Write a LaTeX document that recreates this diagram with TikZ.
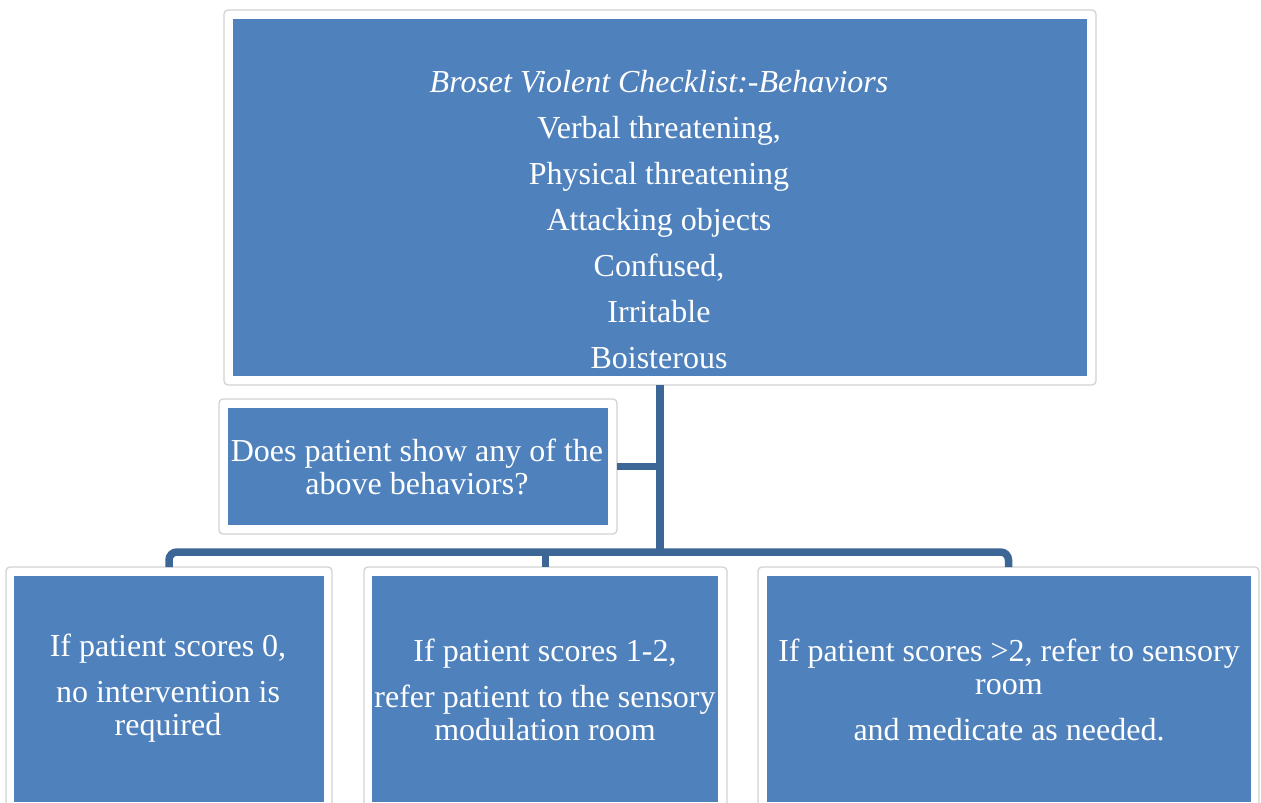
\documentclass[tikz,border=0pt]{standalone}
\usepackage{fontspec}
\setmainfont{Liberation Serif}
\definecolor{boxblue}{HTML}{4F81BD}
\definecolor{linkblue}{HTML}{3C6696}
\definecolor{rimgray}{HTML}{D2D2D2}
\begin{document}
\begin{tikzpicture}[x=1pt,y=-1pt,
  rim/.style={draw=rimgray, line width=1.3pt, fill=white, rounded corners=4pt, inner sep=0pt, outer sep=0pt},
  card/.style={fill=boxblue, inner sep=0pt, outer sep=0pt},
  txt/.style={text=white, align=center, font=\fontsize{32}{33}\selectfont, inner sep=0pt},
  link/.style={draw=linkblue, line width=7.5pt}]
\useasboundingbox (0,0) rectangle (1261,803);
\clip (0,0) rectangle (1261,803);

% outer frames
\node[rim, minimum width=872pt, minimum height=375pt] (top) at (660,197.5) {};
\node[rim, minimum width=398pt, minimum height=135pt] (q) at (418,466.5) {};
\node[rim, minimum width=326pt, minimum height=245pt] (L) at (169,689.5) {};
\node[rim, minimum width=363pt, minimum height=245pt] (M) at (545.5,689.5) {};
\node[rim, minimum width=501pt, minimum height=245pt] (R) at (1008.5,689.5) {};

% blue cards
\node[card, minimum width=854pt, minimum height=357pt] (topc) at (top.center) {};
\node[card, minimum width=380pt, minimum height=117pt] (qc) at (q.center) {};
\node[card, minimum width=310pt, minimum height=226pt] (Lc) at (169,689) {};
\node[card, minimum width=346pt, minimum height=226pt] (Mc) at (545,689) {};
\node[card, minimum width=484pt, minimum height=226pt] (Rc) at (1009,689) {};

% texts
\node[txt, font=\fontsize{32}{46}\selectfont] (topt) at (659,220)
  {\textit{Broset Violent Checklist:-Behaviors}\\Verbal threatening,\\Physical threatening\\Attacking objects\\Confused,\\Irritable\\Boisterous};
\node[txt] (qt) at (417,466.5) {Does patient show any of the\\above behaviors?};
\node[txt] (Lt) at (168,688.5) {If patient scores 0,\\[13pt]no intervention is\\required};
\node[txt] (Mt) at (545,690) {If patient scores 1-2,\\[13pt]refer patient to the sensory\\modulation room};
\node[txt] (Rt) at (1009,690) {If patient scores >2, refer to sensory\\room\\[13pt]and medicate as needed.};

% connectors
\coordinate (bus) at (660,552);
\draw[link] (top.south) -- (bus);
\draw[link] (q.east) -- (q.east -| top.south);
\draw[link, rounded corners=8pt] (L.north) -- (L.north |- bus) -- (R.north |- bus) -- (R.north);
\draw[link] (M.north |- bus) -- (M.north);
\end{tikzpicture}
\end{document}
